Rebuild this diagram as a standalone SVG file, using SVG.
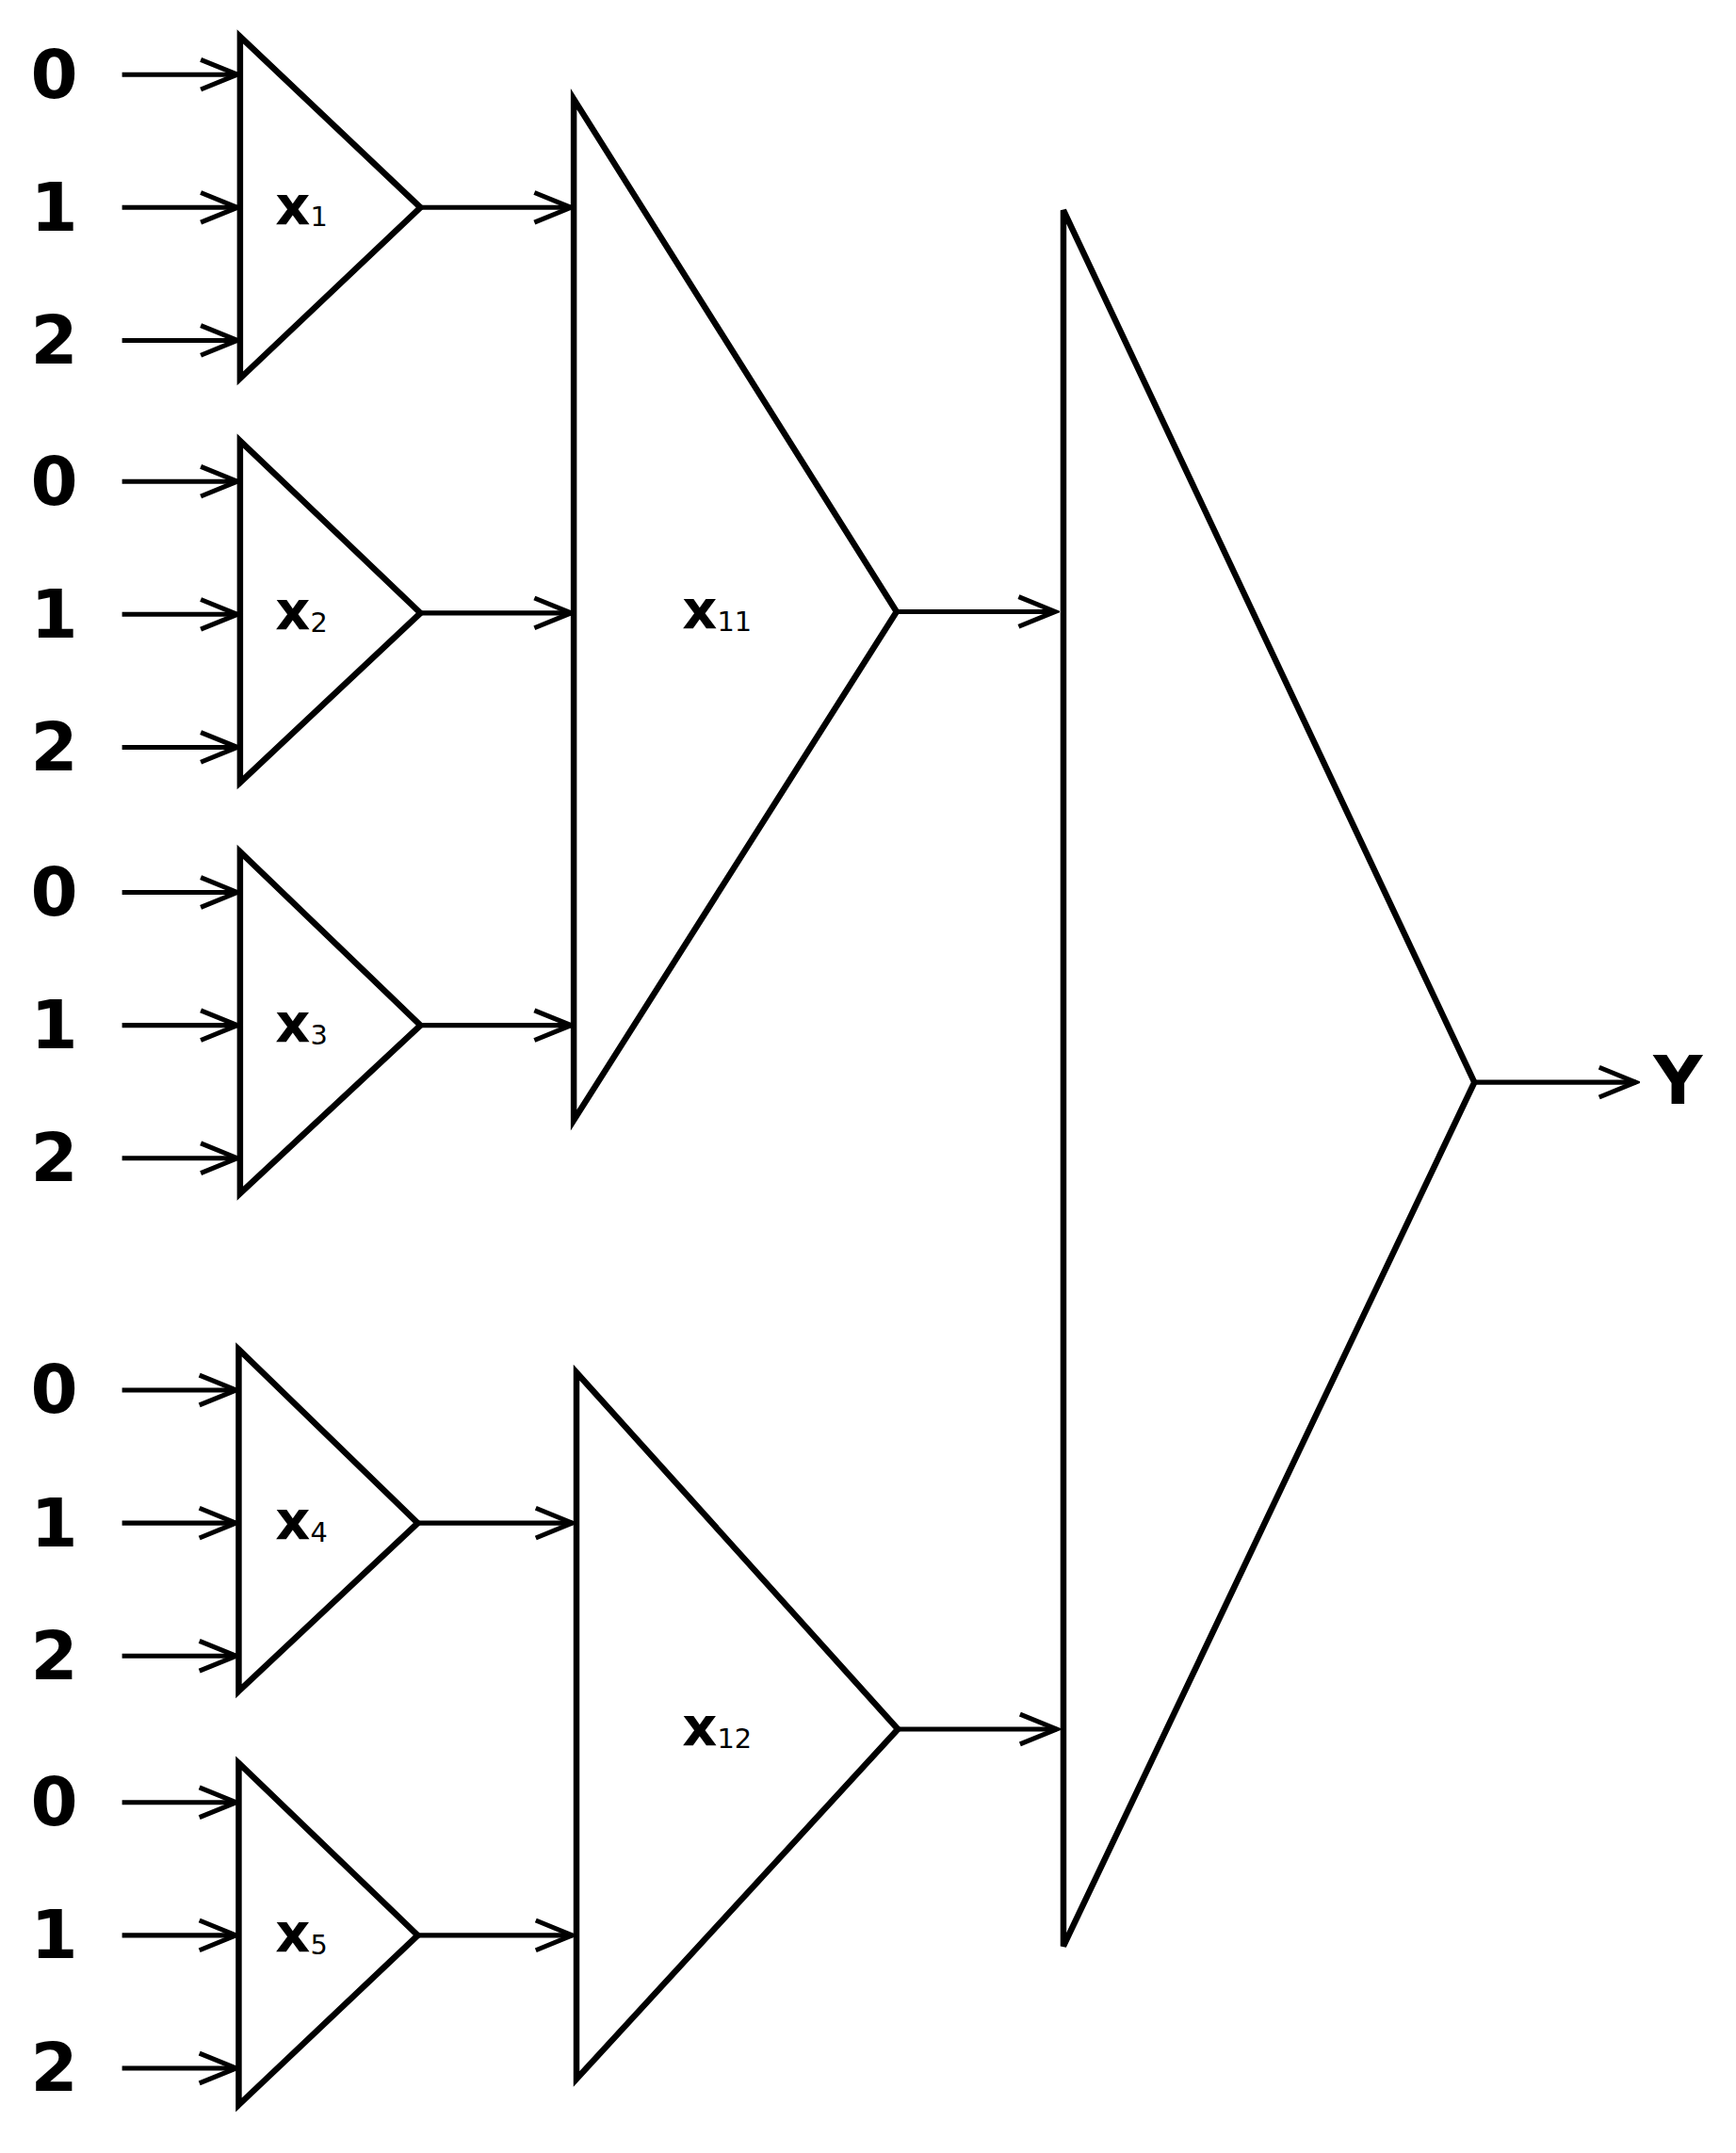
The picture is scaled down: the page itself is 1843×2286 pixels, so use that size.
<svg xmlns="http://www.w3.org/2000/svg" width="1843" height="2286" viewBox="0 0 1843 2286">
<style>
.s{fill:none;stroke:#000;stroke-width:4.5;stroke-linejoin:miter}
.c{fill:none;stroke:#000;stroke-width:3.5}
.d{font-family:"DejaVu Sans","Liberation Sans",sans-serif;font-weight:bold;font-size:50px;text-anchor:middle}
.x{font-family:"DejaVu Sans","Liberation Sans",sans-serif;font-weight:bold;font-size:40px}
.sub{font-size:20px;font-weight:normal}
</style>
<defs>
<marker id="a" markerWidth="32" markerHeight="28" refX="29" refY="14" orient="auto" markerUnits="userSpaceOnUse">
<path d="M2,3 L29,14 L2,25" fill="none" stroke="#000" stroke-width="3.5"/>
</marker>
</defs>
<rect width="1843" height="2286" fill="#fff"/>
<g transform="scale(1.44)">
<g id="labels">
<text class="d" x="40" y="72">0</text><text class="d" x="40" y="170">1</text><text class="d" x="40" y="268">2</text>
<text class="d" x="40" y="372">0</text><text class="d" x="40" y="470">1</text><text class="d" x="40" y="568">2</text>
<text class="d" x="40" y="675">0</text><text class="d" x="40" y="773">1</text><text class="d" x="40" y="871">2</text>
<text class="d" x="40" y="1042">0</text><text class="d" x="40" y="1140">1</text><text class="d" x="40" y="1238">2</text>
<text class="d" x="40" y="1346">0</text><text class="d" x="40" y="1444">1</text><text class="d" x="40" y="1542">2</text>
<text class="d" x="1237" y="814">Y</text>
</g>
<g id="x1"><path class="s" d="M177,27 L177,279 L310,153 Z"/><text class="x" x="203" y="165">x<tspan class="sub" dy="2">1</tspan></text></g>
<g id="x2"><path class="s" d="M177,325 L177,577 L310,452 Z"/><text class="x" x="203" y="464">x<tspan class="sub" dy="2">2</tspan></text></g>
<g id="x3"><path class="s" d="M177,628 L177,880 L310,756 Z"/><text class="x" x="203" y="768">x<tspan class="sub" dy="2">3</tspan></text></g>
<g id="x4"><path class="s" d="M176,995 L176,1247 L308,1123 Z"/><text class="x" x="203" y="1135">x<tspan class="sub" dy="2">4</tspan></text></g>
<g id="x5"><path class="s" d="M176,1300 L176,1552 L308,1427 Z"/><text class="x" x="203" y="1439">x<tspan class="sub" dy="2">5</tspan></text></g>
<g id="x11"><path class="s" d="M423,73 L423,826 L661,451 Z"/><text class="x" x="503" y="463">x<tspan class="sub" dy="2">11</tspan></text></g>
<g id="x12"><path class="s" d="M425,1012 L425,1533 L662,1275 Z"/><text class="x" x="503" y="1287">x<tspan class="sub" dy="2">12</tspan></text></g>
<g id="y"><path class="s" d="M784,155 L784,1435 L1087,798 Z"/></g>
<g id="connectors" class="c">
<line x1="90" y1="55" x2="175" y2="55" marker-end="url(#a)"/>
<line x1="90" y1="153" x2="175" y2="153" marker-end="url(#a)"/>
<line x1="90" y1="251" x2="175" y2="251" marker-end="url(#a)"/>
<line x1="90" y1="355" x2="175" y2="355" marker-end="url(#a)"/>
<line x1="90" y1="453" x2="175" y2="453" marker-end="url(#a)"/>
<line x1="90" y1="551" x2="175" y2="551" marker-end="url(#a)"/>
<line x1="90" y1="658" x2="175" y2="658" marker-end="url(#a)"/>
<line x1="90" y1="756" x2="175" y2="756" marker-end="url(#a)"/>
<line x1="90" y1="854" x2="175" y2="854" marker-end="url(#a)"/>
<line x1="90" y1="1025" x2="174" y2="1025" marker-end="url(#a)"/>
<line x1="90" y1="1123" x2="174" y2="1123" marker-end="url(#a)"/>
<line x1="90" y1="1221" x2="174" y2="1221" marker-end="url(#a)"/>
<line x1="90" y1="1329" x2="174" y2="1329" marker-end="url(#a)"/>
<line x1="90" y1="1427" x2="174" y2="1427" marker-end="url(#a)"/>
<line x1="90" y1="1525" x2="174" y2="1525" marker-end="url(#a)"/>
<line x1="310" y1="153" x2="421" y2="153" marker-end="url(#a)"/>
<line x1="310" y1="452" x2="421" y2="452" marker-end="url(#a)"/>
<line x1="310" y1="756" x2="421" y2="756" marker-end="url(#a)"/>
<line x1="308" y1="1123" x2="422" y2="1123" marker-end="url(#a)"/>
<line x1="308" y1="1427" x2="422" y2="1427" marker-end="url(#a)"/>
<line x1="661" y1="451" x2="778" y2="451" marker-end="url(#a)"/>
<line x1="662" y1="1275" x2="779" y2="1275" marker-end="url(#a)"/>
<line x1="1087" y1="798" x2="1206" y2="798" marker-end="url(#a)"/>
</g>
</g>
</svg>
